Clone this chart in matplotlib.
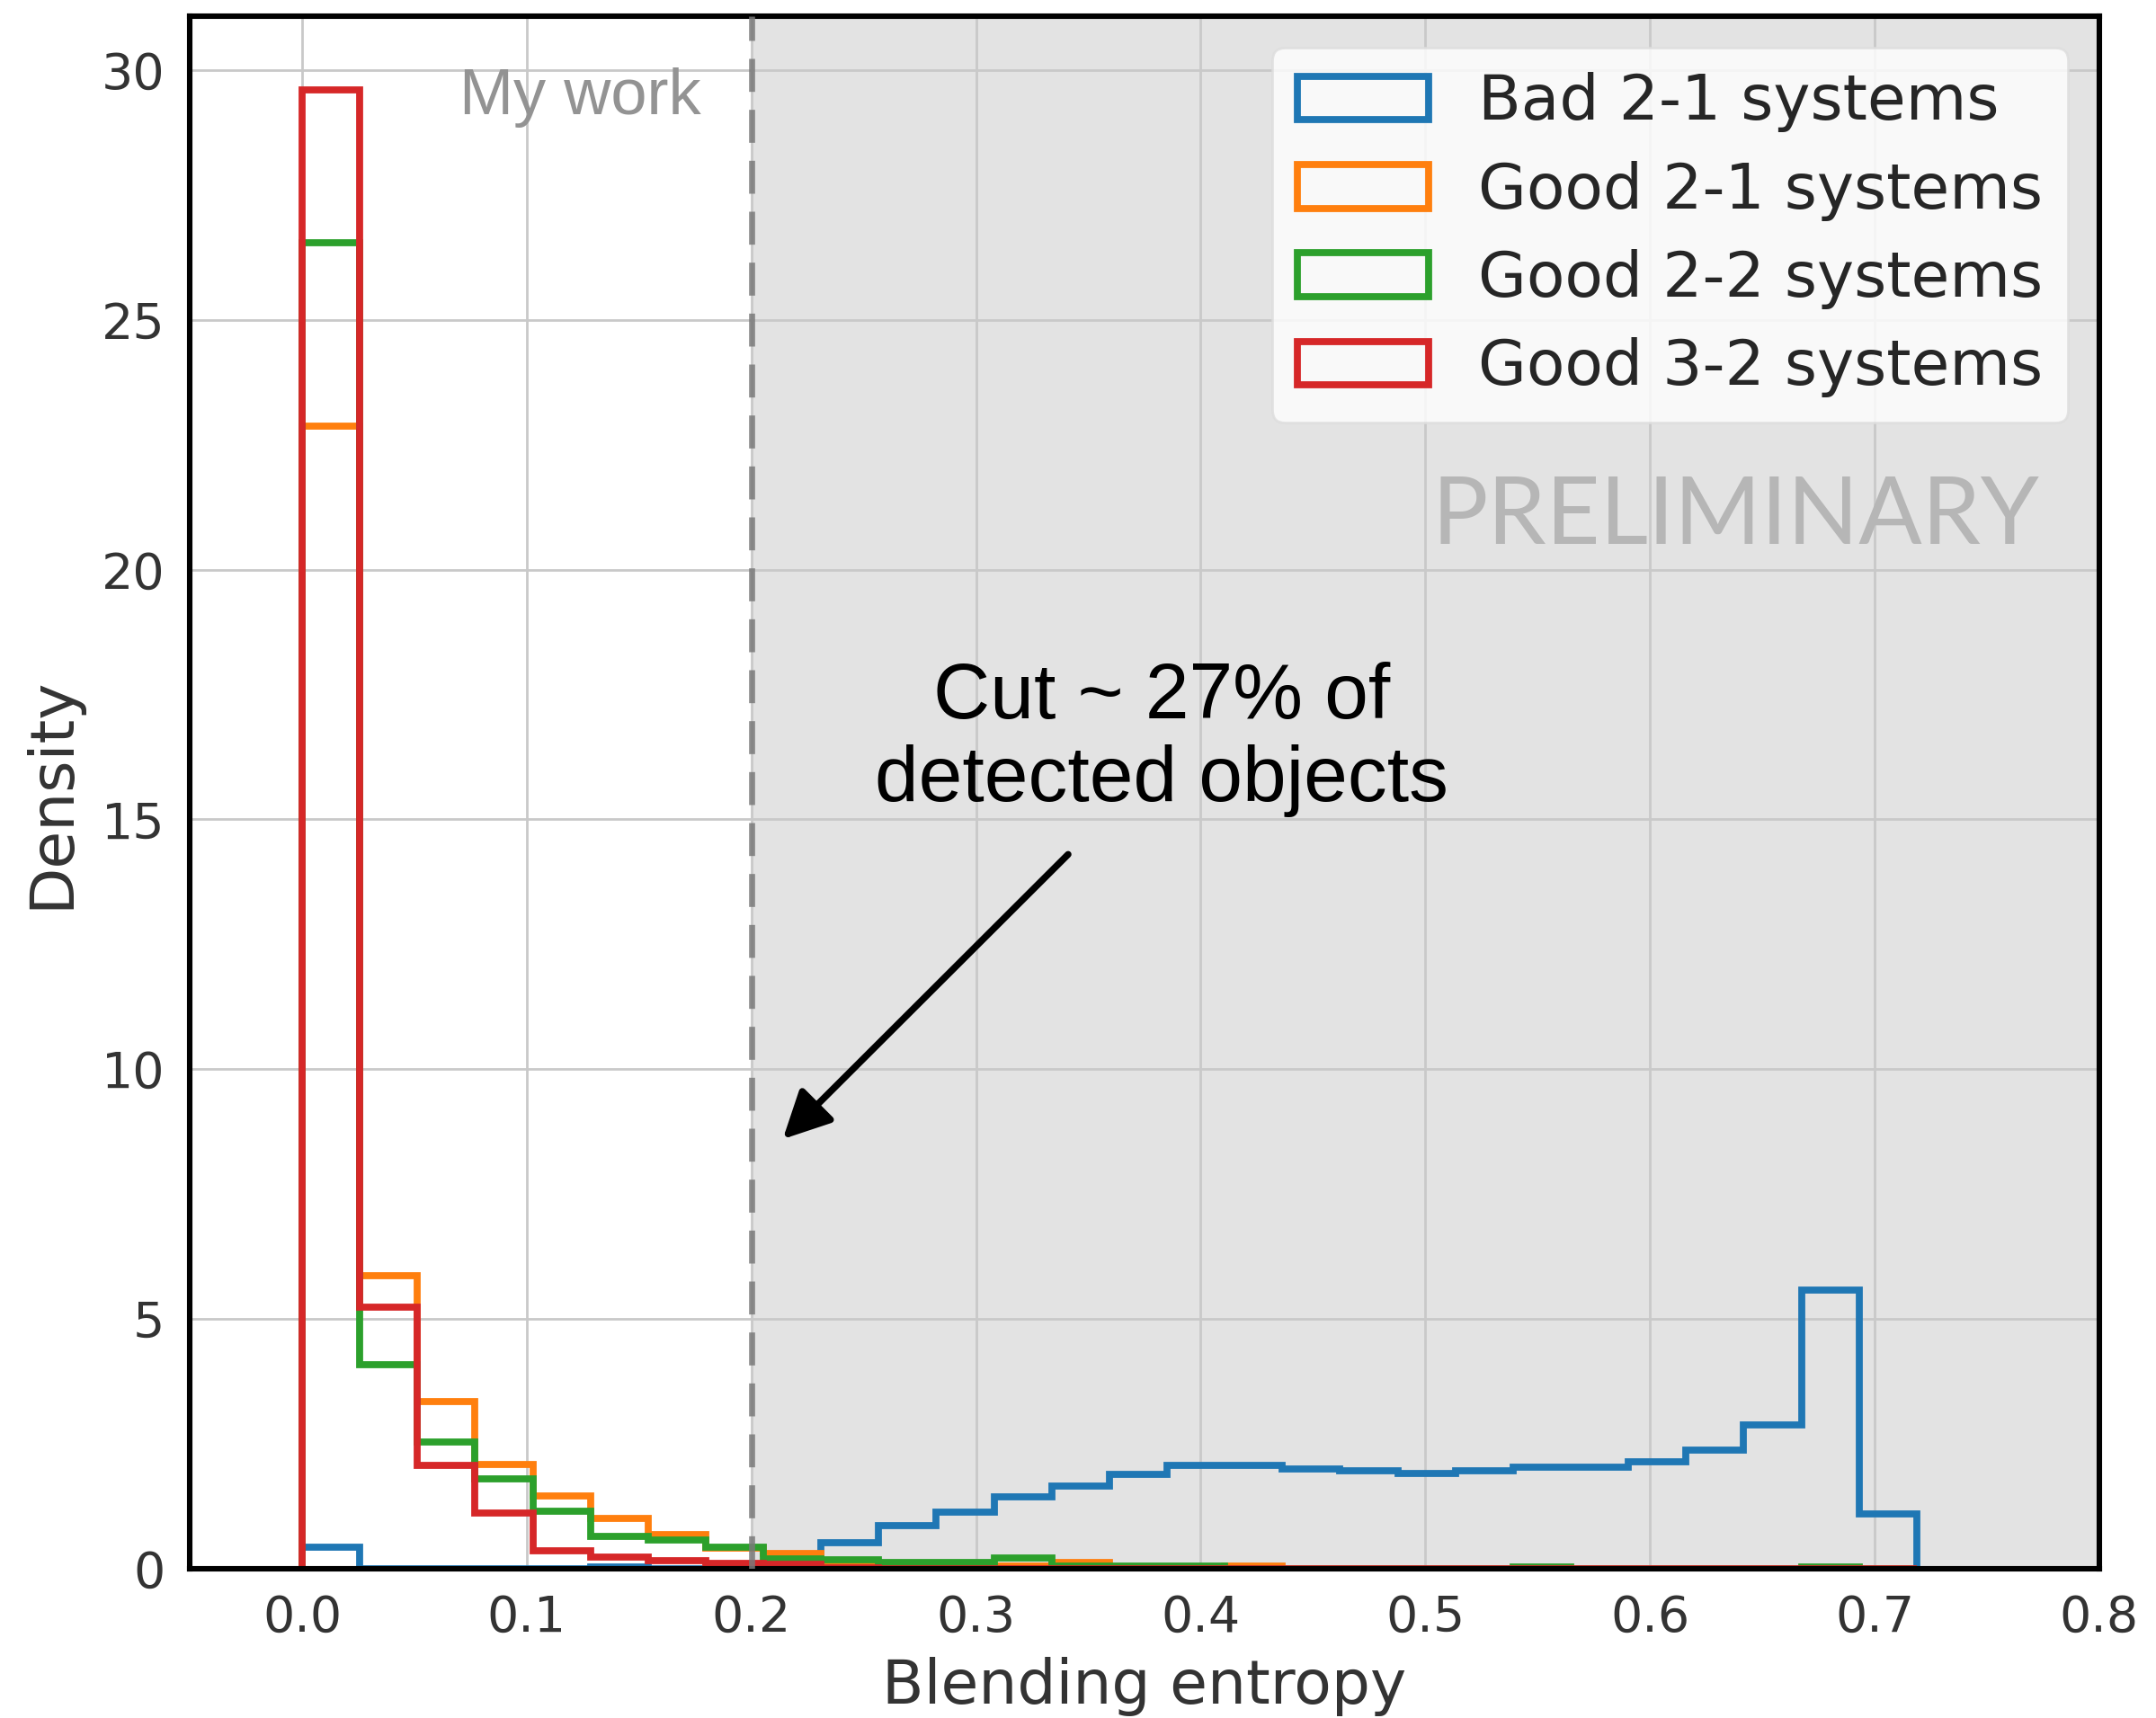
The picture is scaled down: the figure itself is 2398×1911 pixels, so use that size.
import numpy as np
from matplotlib import pyplot as plt

# bin edges of the blending-entropy histogram (28 bins)
edges = np.linspace(0.0, 0.7187, 29)

# density per bin
bad_21 = [0.43, 0, 0, 0, 0, 0.04, 0, 0, 0, 0.52, 0.86, 1.14, 1.43, 1.66,
          1.89, 2.06, 2.06, 2.00, 1.96, 1.91, 1.96, 2.03, 2.03, 2.14, 2.37,
          2.88, 5.57, 1.10]
good_21 = [22.87, 5.87, 3.34, 2.09, 1.45, 1.00, 0.69, 0.42, 0.31, 0.10,
           0.04, 0.04, 0.06, 0.12, 0.02, 0.02, 0.06, 0, 0, 0, 0, 0, 0, 0,
           0, 0, 0, 0]
good_22 = [26.55, 4.08, 2.54, 1.79, 1.15, 0.64, 0.58, 0.43, 0.19, 0.18,
           0.12, 0.12, 0.21, 0.05, 0.05, 0.05, 0, 0, 0, 0, 0, 0.03, 0, 0,
           0, 0, 0.03, 0]
good_32 = [29.60, 5.23, 2.07, 1.11, 0.36, 0.24, 0.16, 0.10, 0.08, 0.02,
           0, 0, 0, 0, 0, 0, 0, 0, 0, 0, 0, 0, 0, 0, 0, 0, 0, 0]

series = [bad_21, good_21, good_22, good_32]
names = ["Bad 2-1 systems", "Good 2-1 systems", "Good 2-2 systems", "Good 3-2 systems"]
colors = ["#1f77b4", "#ff7f0e", "#2ca02c", "#d62728"]

cut = 0.2
xticks = [0.0, 0.1, 0.2, 0.3, 0.4, 0.5, 0.6, 0.7, 0.8]
yticks = [0, 5, 10, 15, 20, 25, 30]

#%%
fig = plt.figure(figsize=(11.99, 9.555), dpi=200)
ax = fig.add_axes([0.088, 0.0869, 0.8857, 0.9037])

ax.axvspan(cut, 0.8, color="#e3e3e3", zorder=0, lw=0)
ax.set_axisbelow(True)
ax.grid(True, color="#c9c9c9", lw=1.0)

centers = edges[:-1]
for vals, name, c in zip(series, names, colors):
    ax.hist(centers, bins=edges, weights=vals, histtype="step",
            color=c, lw=2.8, label=name)

ax.axvline(cut, color="#7a7a7a", ls=(0, (5.5, 3)), lw=2.4, alpha=0.85, zorder=3)

ax.set_xlim(-0.05, 0.8)
ax.set_ylim(0, 31.08)
ax.set_xticks(xticks)
ax.set_yticks(yticks)
ax.tick_params(length=0, pad=10, labelsize=20, labelcolor="#333333")
for s in ax.spines.values():
    s.set_linewidth(2.2)
    s.set_color("black")

ax.set_xlabel("Blending entropy", fontsize=24.5, color="#333333", labelpad=6)
ax.set_ylabel("Density", fontsize=24.5, color="#333333", labelpad=8)

leg = ax.legend(loc="upper right", fontsize=25, fancybox=True, framealpha=0.8,
                facecolor="white", edgecolor="#dddddd", handlelength=2.1,
                handleheight=0.7, handletextpad=0.8, labelspacing=0.45)
for t in leg.get_texts():
    t.set_color("#262626")

ax.text(0.1775, 29.45, "My work", ha="right", va="center", color="#939393",
        fontsize=26, family="Liberation Sans")
ax.text(0.638, 21.05, "PRELIMINARY", ha="center", va="center", color="#b6b6b6",
        fontsize=37.5, family="Lato")

ax.text(0.3825, 16.6, "Cut ~ 27% of\ndetected objects", ha="center", va="center",
        fontsize=31.5, family="Liberation Sans", color="black", linespacing=1.18)
ax.annotate("", xy=(0.214, 8.6), xytext=(0.341, 14.3),
            arrowprops=dict(arrowstyle="-|>", color="black", lw=2.7,
                            mutation_scale=40, shrinkA=0, shrinkB=0))

fig.savefig("out.png", dpi=200)
